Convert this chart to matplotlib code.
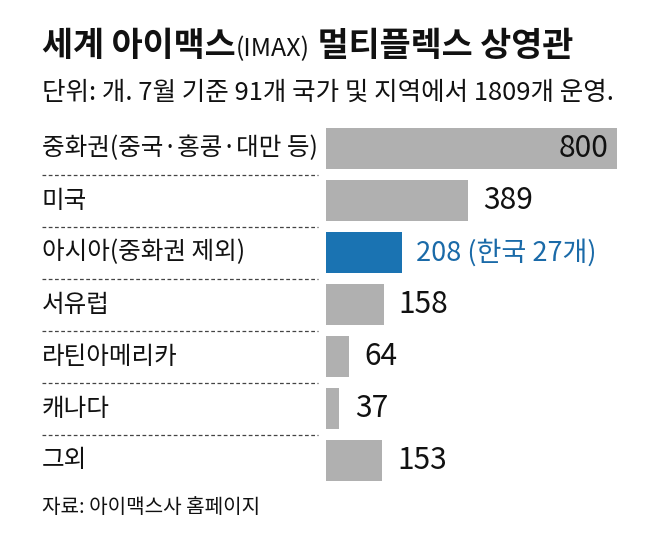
import matplotlib
matplotlib.use('Agg')
import matplotlib.pyplot as plt
import matplotlib.transforms as mtransforms
from matplotlib.lines import Line2D

plt.rcParams['font.family'] = ['Noto Sans CJK KR', 'DejaVu Sans']

regions = ['중화권(중국·홍콩·대만 등)', '미국', '아시아(중화권 제외)', '서유럽',
           '라틴아메리카', '캐나다', '그외']
screens = [800, 389, 208, 158, 64, 37, 153]
value_labels = ['800', '389', '208 (한국 27개)', '158', '64', '37', '153']
highlight = 2

gray = '#b0b0b0'
blue = '#1a73b2'
blue_text = '#1a6aa8'

W, H = 658, 534
fig = plt.figure(figsize=(W / 100, H / 100), dpi=100)

# bar area: starts at x=326px, 0.364 px per unit, rows of 52px
ax = fig.add_axes([326 / W, (H - 486.5) / H, 314 / W, 364 / H])
ax.set_xlim(0, 314 / 0.364)
ax.set_ylim(len(regions) - 0.5, -0.5)
ax.axis('off')

colors = [blue if i == highlight else gray for i in range(len(regions))]
ax.barh(range(len(regions)), screens, height=0.79, color=colors)

trans = mtransforms.blended_transform_factory(fig.transFigure, ax.transData)
for i, name in enumerate(regions):
    ax.text(42 / W, i, name, transform=trans, ha='left', va='center',
            fontsize=17.7, color='#111111')
    if i < len(regions) - 1:
        ax.add_line(Line2D([42 / W, 318 / W], [i + 0.5, i + 0.5], transform=trans,
                           color='#444444', lw=0.9, linestyle=(0, (3, 2)),
                           clip_on=False))

for i, (v, lab) in enumerate(zip(screens, value_labels)):
    if i == 0:
        ax.annotate(lab, xy=(v, i), xytext=(-6, 0), textcoords='offset points',
                    ha='right', va='center', fontsize=21.5, color='#111111')
    elif i == highlight:
        ax.annotate(lab, xy=(v, i), xytext=(10, 0), textcoords='offset points',
                    ha='left', va='center', fontsize=19.5, color=blue_text)
    else:
        ax.annotate(lab, xy=(v, i), xytext=(11, 0), textcoords='offset points',
                    ha='left', va='center', fontsize=21.5, color='#111111')

# title in three pieces, "(IMAX)" smaller
renderer = fig.canvas.get_renderer()
x = 42 / W
y = 1 - 56 / H
for part, size, weight in [('세계 아이맥스', 24.3, 'bold'), ('(IMAX)', 18, 'medium'),
                           (' 멀티플렉스 상영관', 24.3, 'bold')]:
    t = fig.text(x, y, part, fontsize=size, fontweight=weight, ha='left',
                 va='baseline', color='#111111')
    bb = t.get_window_extent(renderer)
    x = bb.x1 / W

fig.text(42 / W, 1 - 100 / H, '단위: 개. 7월 기준 91개 국가 및 지역에서 1809개 운영.',
         fontsize=18.4, ha='left', va='baseline', color='#111111')
fig.text(42 / W, 1 - 513 / H, '자료: 아이맥스사 홈페이지',
         fontsize=14.5, ha='left', va='baseline', color='#111111')

fig.savefig('out.png', dpi=100)
